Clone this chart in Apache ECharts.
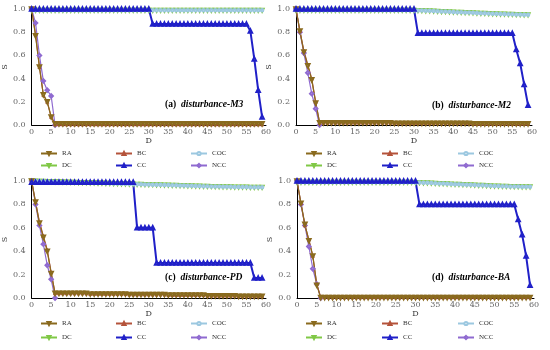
<!DOCTYPE html>
<html><head><meta charset="utf-8">
<script src="https://cdn.jsdelivr.net/npm/echarts@6/dist/echarts.min.js"></script>
<style>html,body{margin:0;padding:0;background:#fff}#c{width:550px;height:350px}</style>
</head><body><div id="c"></div>
<script>
// x = D (0..59), index of each value
const PANEL_TITLES = ['(a)', '(b)', '(c)', '(d)'];
const PANEL_NAMES = ['disturbance-M3', 'disturbance-M2', 'disturbance-PD', 'disturbance-BA'];
const SERIES_NAMES = ['RA', 'BC', 'COC', 'DC', 'CC', 'NCC'];

// ---- panel (a) disturbance-M3
const RA_A = [1.00,0.77,0.50,0.26,0.20,0.07,0.01,0.01,0.01,0.01,0.01,0.01,0.01,0.01,0.01,0.01,0.01,0.01,0.01,0.01,0.01,0.01,0.01,0.01,0.01,0.01,0.01,0.01,0.01,0.01,0.01,0.01,0.01,0.01,0.01,0.01,0.01,0.01,0.01,0.01,0.01,0.01,0.01,0.01,0.01,0.01,0.01,0.01,0.01,0.01,0.01,0.01,0.01,0.01,0.01,0.01,0.01,0.01,0.01,0.01];
const BC_A = [1.00,0.78,0.50,0.26,0.20,0.07,0.005,0.005,0.005,0.005,0.005,0.005,0.005,0.005,0.005,0.005,0.005,0.005,0.005,0.005,0.005,0.005,0.005,0.005,0.005,0.005,0.005,0.005,0.005,0.005,0.005,0.005,0.005,0.005,0.005,0.005,0.005,0.005,0.005,0.005,0.005,0.005,0.005,0.005,0.005,0.005,0.005,0.005,0.005,0.005,0.005,0.005,0.005,0.005,0.005,0.005,0.005,0.005,0.005,0.005];
const COC_A = [0.99,0.99,0.99,0.99,0.99,0.99,0.99,0.99,0.99,0.99,0.99,0.99,0.99,0.99,0.99,0.99,0.99,0.99,0.99,0.99,0.99,0.99,0.99,0.99,0.99,0.99,0.99,0.99,0.99,0.99,0.99,0.99,0.99,0.99,0.99,0.99,0.99,0.99,0.99,0.99,0.99,0.99,0.99,0.99,0.99,0.99,0.99,0.99,0.99,0.99,0.99,0.99,0.99,0.99,0.99,0.99,0.99,0.99,0.99,0.99];
const DC_A = [0.99,0.99,0.99,0.99,0.99,0.99,0.99,0.99,0.99,0.99,0.99,0.99,0.99,0.99,0.99,0.99,0.99,0.99,0.99,0.99,0.99,0.99,0.99,0.99,0.99,0.99,0.99,0.99,0.99,0.99,0.99,0.99,0.99,0.99,0.99,0.99,0.99,0.99,0.99,0.99,0.99,0.99,0.99,0.99,0.99,0.99,0.99,0.99,0.99,0.99,0.99,0.99,0.99,0.99,0.99,0.99,0.99,0.99,0.99,0.99];
const CC_A = [1.00,1.00,1.00,1.00,1.00,1.00,1.00,1.00,1.00,1.00,1.00,1.00,1.00,1.00,1.00,1.00,1.00,1.00,1.00,1.00,1.00,1.00,1.00,1.00,1.00,1.00,1.00,1.00,1.00,1.00,1.00,0.87,0.87,0.87,0.87,0.87,0.87,0.87,0.87,0.87,0.87,0.87,0.87,0.87,0.87,0.87,0.87,0.87,0.87,0.87,0.87,0.87,0.87,0.87,0.87,0.87,0.81,0.57,0.30,0.07];
const NCC_A = [1.00,0.88,0.60,0.38,0.30,0.25,0.00];

// ---- panel (b) disturbance-M2
const RA_B = [1.00,0.81,0.63,0.51,0.39,0.19,0.02,0.02,0.02,0.02,0.02,0.02,0.02,0.02,0.02,0.02,0.02,0.02,0.02,0.02,0.02,0.02,0.02,0.02,0.02,0.015,0.015,0.015,0.015,0.015,0.015,0.015,0.015,0.015,0.015,0.015,0.015,0.015,0.015,0.015,0.015,0.015,0.015,0.015,0.015,0.01,0.01,0.01,0.01,0.01,0.01,0.01,0.01,0.01,0.01,0.01,0.01,0.01,0.01,0.01];
const BC_B = [1.00,0.81,0.64,0.52,0.40,0.20,0.02,0.02,0.02,0.02,0.02,0.02,0.02,0.02,0.02,0.02,0.02,0.02,0.02,0.02,0.02,0.02,0.02,0.02,0.02,0.015,0.015,0.015,0.015,0.015,0.015,0.015,0.015,0.015,0.015,0.015,0.015,0.015,0.015,0.015,0.015,0.015,0.015,0.015,0.015,0.01,0.01,0.01,0.01,0.01,0.01,0.01,0.01,0.01,0.01,0.01,0.01,0.01,0.01,0.01];
const COC_B = [0.99,0.99,0.99,0.99,0.99,0.99,0.99,0.99,0.99,0.99,0.99,0.99,0.99,0.99,0.99,0.99,0.99,0.99,0.99,0.99,0.99,0.99,0.99,0.99,0.99,0.99,0.99,0.99,0.99,0.99,0.99,0.988,0.987,0.985,0.984,0.982,0.981,0.979,0.978,0.976,0.975,0.973,0.972,0.970,0.969,0.967,0.966,0.964,0.963,0.961,0.960,0.958,0.957,0.956,0.955,0.954,0.953,0.952,0.951,0.950];
const DC_B = [0.99,0.99,0.99,0.99,0.99,0.99,0.99,0.99,0.99,0.99,0.99,0.99,0.99,0.99,0.99,0.99,0.99,0.99,0.99,0.99,0.99,0.99,0.99,0.99,0.99,0.99,0.99,0.99,0.99,0.99,0.99,0.988,0.987,0.985,0.984,0.982,0.981,0.979,0.978,0.976,0.975,0.973,0.972,0.970,0.969,0.967,0.966,0.964,0.963,0.961,0.960,0.958,0.957,0.956,0.955,0.954,0.953,0.952,0.951,0.950];
const CC_B = [1.00,1.00,1.00,1.00,1.00,1.00,1.00,1.00,1.00,1.00,1.00,1.00,1.00,1.00,1.00,1.00,1.00,1.00,1.00,1.00,1.00,1.00,1.00,1.00,1.00,1.00,1.00,1.00,1.00,1.00,1.00,0.79,0.79,0.79,0.79,0.79,0.79,0.79,0.79,0.79,0.79,0.79,0.79,0.79,0.79,0.79,0.79,0.79,0.79,0.79,0.79,0.79,0.79,0.79,0.79,0.79,0.65,0.53,0.35,0.17];
const NCC_B = [1.00,0.80,0.62,0.45,0.27,0.14,0.00];

// ---- panel (c) disturbance-PD
const RA_C = [1.00,0.82,0.64,0.52,0.40,0.21,0.04,0.04,0.04,0.04,0.04,0.04,0.04,0.04,0.04,0.035,0.035,0.035,0.035,0.035,0.035,0.035,0.035,0.035,0.035,0.03,0.03,0.03,0.03,0.03,0.03,0.03,0.03,0.03,0.03,0.025,0.025,0.025,0.025,0.025,0.025,0.025,0.025,0.025,0.025,0.02,0.02,0.02,0.02,0.02,0.02,0.02,0.02,0.015,0.015,0.015,0.015,0.015,0.015,0.015];
const BC_C = [1.00,0.82,0.65,0.53,0.41,0.22,0.04,0.04,0.04,0.04,0.04,0.04,0.04,0.04,0.04,0.035,0.035,0.035,0.035,0.035,0.035,0.035,0.035,0.035,0.035,0.03,0.03,0.03,0.03,0.03,0.03,0.03,0.03,0.03,0.03,0.025,0.025,0.025,0.025,0.025,0.025,0.025,0.025,0.025,0.025,0.02,0.02,0.02,0.02,0.02,0.02,0.02,0.02,0.015,0.015,0.015,0.015,0.015,0.015,0.015];
const COC_C = [1.000,0.999,0.998,0.997,0.996,0.995,0.994,0.993,0.992,0.991,0.990,0.989,0.988,0.987,0.986,0.985,0.984,0.983,0.982,0.981,0.980,0.979,0.978,0.977,0.976,0.975,0.974,0.973,0.972,0.971,0.970,0.969,0.968,0.967,0.966,0.965,0.964,0.963,0.962,0.961,0.960,0.959,0.958,0.957,0.956,0.955,0.954,0.953,0.952,0.951,0.950,0.950,0.949,0.949,0.948,0.948,0.947,0.947,0.946,0.946];
const DC_C = [1.000,0.999,0.998,0.997,0.996,0.995,0.994,0.993,0.992,0.991,0.990,0.989,0.988,0.987,0.986,0.985,0.984,0.983,0.982,0.981,0.980,0.979,0.978,0.977,0.976,0.975,0.974,0.973,0.972,0.971,0.970,0.969,0.968,0.967,0.966,0.965,0.964,0.963,0.962,0.961,0.960,0.959,0.958,0.957,0.956,0.955,0.954,0.953,0.952,0.951,0.950,0.950,0.949,0.949,0.948,0.948,0.947,0.947,0.946,0.946];
const CC_C = [0.99,0.99,0.99,0.99,0.99,0.99,0.99,0.99,0.99,0.99,0.99,0.99,0.99,0.99,0.99,0.99,0.99,0.99,0.99,0.99,0.99,0.99,0.99,0.99,0.99,0.99,0.99,0.60,0.60,0.60,0.60,0.60,0.30,0.30,0.30,0.30,0.30,0.30,0.30,0.30,0.30,0.30,0.30,0.30,0.30,0.30,0.30,0.30,0.30,0.30,0.30,0.30,0.30,0.30,0.30,0.30,0.30,0.17,0.17,0.17];
const NCC_C = [1.00,0.80,0.62,0.46,0.28,0.16,0.00];

// ---- panel (d) disturbance-BA
const RA_D = [1.00,0.81,0.63,0.49,0.36,0.11,0.005,0.005,0.005,0.005,0.005,0.005,0.005,0.005,0.005,0.005,0.005,0.005,0.005,0.005,0.005,0.005,0.005,0.005,0.005,0.005,0.005,0.005,0.005,0.005,0.005,0.005,0.005,0.005,0.005,0.005,0.005,0.005,0.005,0.005,0.005,0.005,0.005,0.005,0.005,0.005,0.005,0.005,0.005,0.005,0.005,0.005,0.005,0.005,0.005,0.005,0.005,0.005,0.005,0.005];
const BC_D = [1.00,0.81,0.62,0.50,0.36,0.12,0.005,0.005,0.005,0.005,0.005,0.005,0.005,0.005,0.005,0.005,0.005,0.005,0.005,0.005,0.005,0.005,0.005,0.005,0.005,0.005,0.005,0.005,0.005,0.005,0.005,0.005,0.005,0.005,0.005,0.005,0.005,0.005,0.005,0.005,0.005,0.005,0.005,0.005,0.005,0.005,0.005,0.005,0.005,0.005,0.005,0.005,0.005,0.005,0.005,0.005,0.005,0.005,0.005,0.005];
const COC_D = [0.99,0.99,0.99,0.99,0.99,0.99,0.99,0.99,0.99,0.99,0.99,0.99,0.99,0.99,0.99,0.99,0.99,0.99,0.99,0.99,0.99,0.99,0.99,0.99,0.99,0.99,0.99,0.99,0.99,0.99,0.988,0.987,0.985,0.984,0.982,0.981,0.979,0.978,0.976,0.975,0.973,0.972,0.970,0.969,0.967,0.966,0.964,0.963,0.961,0.960,0.958,0.957,0.956,0.955,0.954,0.953,0.952,0.951,0.950,0.950];
const DC_D = [0.99,0.99,0.99,0.99,0.99,0.99,0.99,0.99,0.99,0.99,0.99,0.99,0.99,0.99,0.99,0.99,0.99,0.99,0.99,0.99,0.99,0.99,0.99,0.99,0.99,0.99,0.99,0.99,0.99,0.99,0.988,0.987,0.985,0.984,0.982,0.981,0.979,0.978,0.976,0.975,0.973,0.972,0.970,0.969,0.967,0.966,0.964,0.963,0.961,0.960,0.958,0.957,0.956,0.955,0.954,0.953,0.952,0.951,0.950,0.950];
const CC_D = [1.00,1.00,1.00,1.00,1.00,1.00,1.00,1.00,1.00,1.00,1.00,1.00,1.00,1.00,1.00,1.00,1.00,1.00,1.00,1.00,1.00,1.00,1.00,1.00,1.00,1.00,1.00,1.00,1.00,1.00,1.00,0.80,0.80,0.80,0.80,0.80,0.80,0.80,0.80,0.80,0.80,0.80,0.80,0.80,0.80,0.80,0.80,0.80,0.80,0.80,0.80,0.80,0.80,0.80,0.80,0.80,0.67,0.54,0.36,0.11];
const NCC_D = [1.00,0.80,0.62,0.44,0.25,0.12,0.00];

const PANELS = [
  {RA: RA_A, BC: BC_A, COC: COC_A, DC: DC_A, CC: CC_A, NCC: NCC_A},
  {RA: RA_B, BC: BC_B, COC: COC_B, DC: DC_B, CC: CC_B, NCC: NCC_B},
  {RA: RA_C, BC: BC_C, COC: COC_C, DC: DC_C, CC: CC_C, NCC: NCC_C},
  {RA: RA_D, BC: BC_D, COC: COC_D, DC: DC_D, CC: CC_D, NCC: NCC_D}
];

// ---- styles (layout, not data)
const STYLE = {
  RA:  {color: '#8a6a1e', symbol: 'emptyTriangle', rotate: 180, size: 3.5, width: 1.2},
  BC:  {color: '#b4533a', symbol: 'triangle', rotate: 0, size: 3, width: 1.2},
  COC: {color: '#9cc8e0', symbol: 'emptyCircle', rotate: 0, size: 2.5, width: 1.2},
  DC:  {color: '#80c846', symbol: 'emptyTriangle', rotate: 180, size: 3, width: 1.2},
  CC:  {color: '#2020c8', symbol: 'emptyTriangle', rotate: 0, size: 3.5, width: 2},
  NCC: {color: '#8f6ad0', symbol: 'emptyDiamond', rotate: 0, size: 3.5, width: 1.2}
};
const DRAW_ORDER = ['DC', 'COC', 'NCC', 'BC', 'RA', 'CC'];
const GRIDS = [
  {left: 30, top: 9, width: 236, height: 116},
  {left: 296, top: 9, width: 236, height: 116},
  {left: 30, top: 181, width: 236, height: 117},
  {left: 297, top: 181, width: 237, height: 117}
];
const LEGEND_X = [[40, 115, 190], [305, 381, 457], [40, 115, 190], [305, 381, 457]];
const LEGEND_Y = [150, 150, 320, 320];
const LEGEND_GAP = [4, 4, 6, 6];
const TITLE_POS = [[165, 96], [432, 97], [165, 269], [432, 269]];
const FONT = 'DejaVu Serif';

const option = {
  animation: false,
  backgroundColor: '#fff',
  grid: GRIDS,
  xAxis: GRIDS.map((g, i) => ({
    gridIndex: i, type: 'value', min: 0, max: 60, interval: 5,
    name: 'D', nameLocation: 'middle', nameGap: 12,
    nameTextStyle: {fontFamily: FONT, fontSize: 8, color: '#333'},
    axisLine: {lineStyle: {color: '#000', width: 1}},
    axisTick: {show: false},
    splitLine: {show: false},
    axisLabel: {fontFamily: FONT, fontSize: 8, color: '#666', margin: 3}
  })),
  yAxis: GRIDS.map((g, i) => ({
    gridIndex: i, type: 'value', min: 0, max: 1, interval: 0.2,
    name: 'S', nameLocation: 'middle', nameGap: 19, nameRotate: 90,
    nameTextStyle: {fontFamily: FONT, fontSize: 8, color: '#333'},
    axisLine: {show: true, lineStyle: {color: '#000', width: 1}},
    axisTick: {show: false},
    splitLine: {show: false},
    axisLabel: {fontFamily: FONT, fontSize: 8, color: '#666', margin: 6,
      formatter: v => v.toFixed(1)}
  })),
  title: PANEL_TITLES.map((t, i) => ({
    text: '{a|' + t + '} {b|' + PANEL_NAMES[i] + '}',
    left: TITLE_POS[i][0], top: TITLE_POS[i][1], padding: 0,
    textStyle: {rich: {
      a: {fontFamily: 'Liberation Serif', fontWeight: 'bold', fontSize: 9.5, color: '#000'},
      b: {fontFamily: 'Liberation Serif', fontWeight: 'bold', fontStyle: 'italic', fontSize: 9.5, color: '#000'}
    }}
  })),
  legend: [],
  series: []
};

const COLS = [['RA', 'DC'], ['BC', 'CC'], ['COC', 'NCC']];
for (let p = 0; p < 4; p++) {
  COLS.forEach((names, c) => {
    option.legend.push({
      orient: 'vertical', left: LEGEND_X[p][c], top: LEGEND_Y[p],
      itemWidth: 16, itemHeight: 4, itemGap: LEGEND_GAP[p] + 1, padding: 0,
      selectedMode: false,
      textStyle: {fontFamily: 'Liberation Serif', fontSize: 7, color: '#333'},
      data: names
    });
  });
  DRAW_ORDER.forEach(name => {
    const s = STYLE[name];
    option.series.push({
      name: name, type: 'line', xAxisIndex: p, yAxisIndex: p,
      data: PANELS[p][name].map((v, i) => [i, v]),
      showAllSymbol: true, symbol: s.symbol, symbolSize: s.size, symbolRotate: s.rotate,
      lineStyle: {color: s.color, width: s.width},
      itemStyle: {color: s.color, borderColor: s.color, borderWidth: 1},
      emphasis: {disabled: true}, silent: true
    });
  });
}

const chart = echarts.init(document.getElementById('c'), null, {renderer: 'canvas'});
chart.setOption(option);
</script>
</body></html>
